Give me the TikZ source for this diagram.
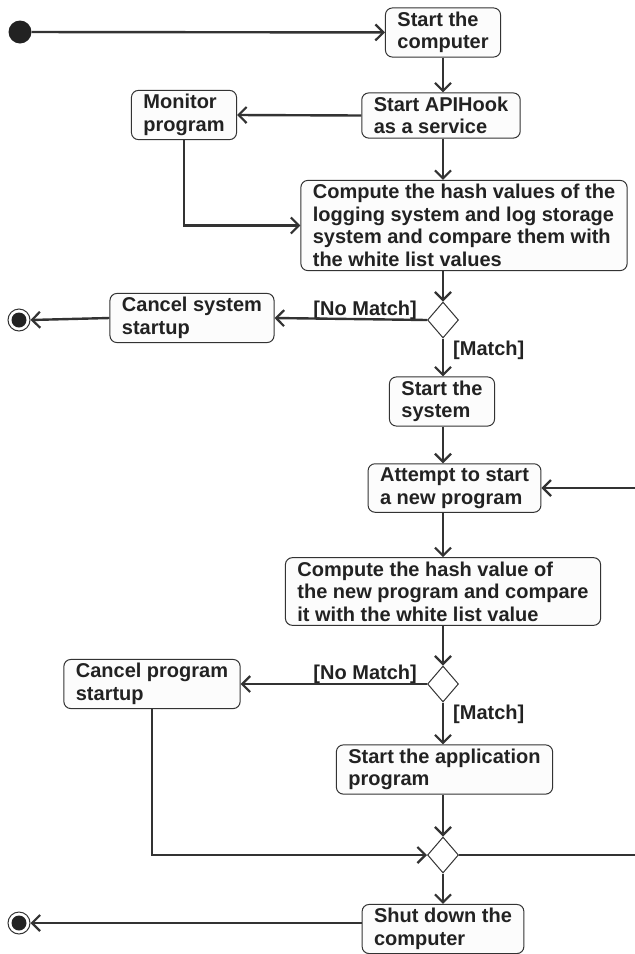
\documentclass[tikz,border=0pt]{standalone}
\usepackage{fontspec}
\setmainfont{Liberation Sans}
\usetikzlibrary{arrows.meta,shapes.geometric}

\definecolor{ink}{HTML}{222222}
\definecolor{wire}{HTML}{333333}

\tikzset{
  act/.style={draw=wire, fill=black!1, rounded corners=7pt, line width=1pt,
    align=left, inner xsep=12pt, inner ysep=4pt, text=ink,
    font=\bfseries\fontsize{20}{22.5}\selectfont},
  decide/.style={diamond, draw=wire, fill=white, line width=1pt,
    minimum width=31pt, minimum height=36pt, inner sep=0pt},
  guard/.style={text=ink, inner sep=0pt, font=\bfseries\fontsize{20}{22.5}\selectfont},
  flow/.style={draw=wire, line width=2.4pt,
    -{Straight Barb[length=8pt,width=16pt,line width=2.2pt]}},
  initial/.style={circle, fill=ink, minimum size=23pt, inner sep=0pt},
  final/.style={circle, draw=wire, fill=white, line width=1pt, minimum size=22pt,
    inner sep=0pt,
    path picture={\fill[ink] (path picture bounding box.center) circle (7.5pt);}},
}

\begin{document}
\begin{tikzpicture}[x=1pt,y=-1pt]
  \useasboundingbox (0,0) rectangle (635,954);
  \clip (0,0) rectangle (635,954);
  \coordinate (col) at (443,0);

  % start up
  \node[initial] (init) at (20,32) {};
  \node[act] (s1) at (443,32.5) {Start the\\computer};
  \node[act] (s2) at (441,115.5) {Start APIHook\\as a service};
  \node[act] (mon) at (184,115) {Monitor\\program};
  \node[act] (hash1) at (464,225.5) {Compute the hash values of the\\logging system and log storage\\system and compare them with\\the white list values};
  \node[decide] (d1) at (443,320) {};
  \node[guard, anchor=base east] (nm1) at ([xshift=-10pt,yshift=5pt]d1.west) {[No Match]};
  \node[guard, anchor=north west] (ok1) at ([xshift=10pt,yshift=-2pt]d1.south) {[Match]};
  \node[act] (cancel1) at (192,318) {Cancel system\\startup};
  \node[final] (end1) at (19,320) {};

  % running programs
  \node[act] (sys) at (442,401.5) {Start the\\system};
  \node[act] (att) at (454.5,488) {Attempt to start\\a new program};
  \node[act] (hash2) at (443,591.5) {Compute the hash value of\\the new program and compare\\it with the white list value};
  \node[decide] (d2) at (443,684) {};
  \node[guard, anchor=base east] (nm2) at ([xshift=-10pt,yshift=5pt]d2.west) {[No Match]};
  \node[guard, anchor=north west] (ok2) at ([xshift=10pt,yshift=-2pt]d2.south) {[Match]};
  \node[act] (cancel2) at (152,684) {Cancel program\\startup};
  \node[act] (app) at (444.5,769.5) {Start the application\\program};
  \node[decide] (m3) at (443,855) {};
  \node[act] (shut) at (443,929) {Shut down the\\computer};
  \node[final] (end2) at (19,923) {};

  \draw[flow] (init) -- (s1);
  \draw[flow] (s1.south -| col) -- (s2.north -| col);
  \draw[flow] (s2.west) -- (mon.east);
  \draw[flow] (s2.south -| col) -- (hash1.north -| col);
  \draw[flow] (mon.south) |- (hash1.west);
  \draw[flow] (hash1.south -| col) -- (d1.north);
  \draw[flow] (d1.west) -- (cancel1.east);
  \draw[flow] (cancel1.west) -- (end1.east);
  \draw[flow] (d1.south) -- (sys.north -| col);
  \draw[flow] (sys.south -| col) -- (att.north -| col);
  \draw[flow] (att.south -| col) -- (hash2.north -| col);
  \draw[flow] (hash2.south -| col) -- (d2.north);
  \draw[flow] (d2.west) -- (cancel2.east);
  \draw[flow] (d2.south) -- (app.north -| col);
  \draw[flow] (app.south -| col) -- (m3.north);
  \draw[flow] (cancel2.south) |- (m3.west);
  \draw[flow] (m3.east) -- ++(220,0) |- (att.east);
  \draw[flow] (m3.south) -- (shut.north -| col);
  \draw[flow] (shut.west |- end2) -- (end2.east);
\end{tikzpicture}
\end{document}
